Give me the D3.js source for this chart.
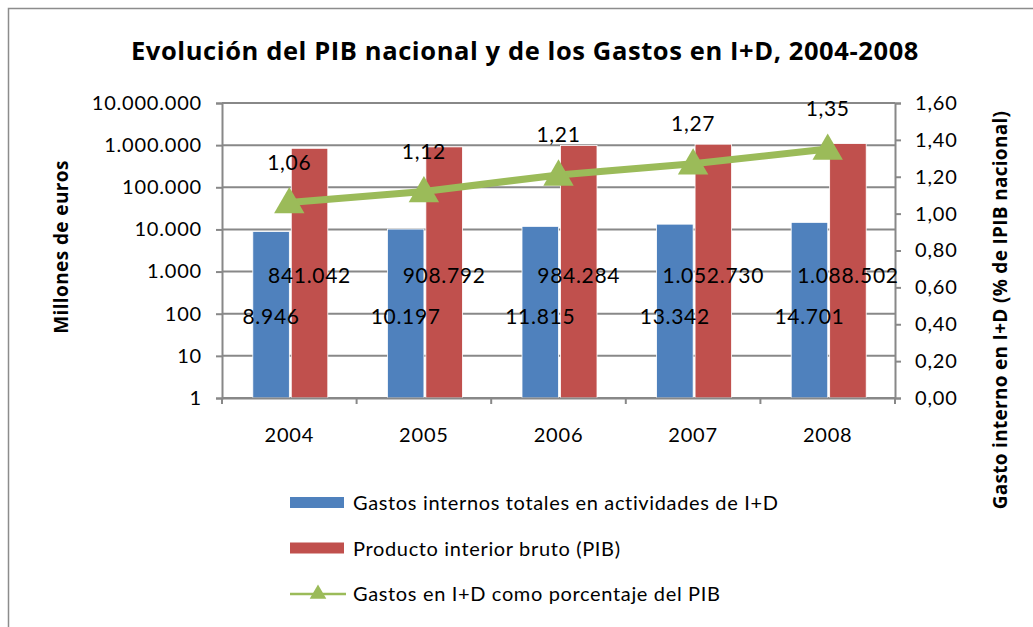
<!DOCTYPE html>
<html>
<head>
<meta charset="utf-8">
<script src="https://cdn.jsdelivr.net/npm/d3@7"></script>
<style>
  body { margin: 0; background: #fff; }
  svg { font-family: Lato, "Open Sans", sans-serif; }
</style>
</head>
<body>
<div id="chart"></div>
<script>
// data
var years = ["2004", "2005", "2006", "2007", "2008"];
var gastoID = [8946, 10197, 11815, 13342, 14701];
var pib = [841042, 908792, 984284, 1052730, 1088502];
var porcentaje = [1.06, 1.12, 1.21, 1.27, 1.35];
var leftTicks = [1, 10, 100, 1000, 10000, 100000, 1000000, 10000000];
var rightTicks = [0, 0.2, 0.4, 0.6, 0.8, 1.0, 1.2, 1.4, 1.6];
var seriesNames = [
  "Gastos internos totales en actividades de I+D",
  "Producto interior bruto (PIB)",
  "Gastos en I+D como porcentaje del PIB"
];

var svgWidth = 1033, svgHeight = 627;
var margin = { top: 103, left: 222, right: 138, bottom: 229 };
var width = svgWidth - margin.left - margin.right;
var height = svgHeight - margin.top - margin.bottom;

var blue = "#4F81BD", red = "#C0504D", green = "#9BBB59", grey = "#888888";

var es = d3.formatLocale({ decimal: ",", thousands: ".", grouping: [3], currency: ["", " €"] });
var fmtInt = es.format(",d");
var fmt2 = es.format(".2f");

var svg = d3.select("#chart").append("svg")
  .attr("width", svgWidth)
  .attr("height", svgHeight);

// chart border
svg.append("rect")
  .attr("x", 8.5).attr("y", 8.5)
  .attr("width", svgWidth + 20).attr("height", svgHeight + 20)
  .attr("fill", "#fff")
  .attr("stroke", "#8c8c8c")
  .attr("stroke-width", 1.5);

var chartGroup = svg.append("g")
  .attr("transform", `translate(${margin.left}, ${margin.top})`);

// scales
var xScale = d3.scaleBand().domain(years).range([0, width]);
var groupWidth = 75;
var xInner = d3.scaleBand().domain(["gasto", "pib"]).range([0, groupWidth]).paddingInner(0.05);
var yLeft = d3.scaleLog().domain([1, 1e7]).range([height, 0]);
var yRight = d3.scaleLinear().domain([0, 1.6]).range([height, 0]);

// gridlines
chartGroup.selectAll(".grid")
  .data(leftTicks)
  .enter()
  .append("line")
  .attr("x1", 0).attr("x2", width)
  .attr("y1", d => yLeft(d)).attr("y2", d => yLeft(d))
  .attr("stroke", grey)
  .attr("stroke-width", 2);

// bars
var barData = [];
years.forEach(function(y, i) {
  barData.push({ year: y, key: "gasto", value: gastoID[i], color: blue });
  barData.push({ year: y, key: "pib", value: pib[i], color: red });
});

var groupOffset = (xScale.bandwidth() - groupWidth) / 2 + 1;

chartGroup.selectAll(".bar")
  .data(barData)
  .enter()
  .append("rect")
  .attr("x", d => xScale(d.year) + groupOffset + xInner(d.key))
  .attr("width", xInner.bandwidth())
  .attr("y", d => yLeft(d.value))
  .attr("height", d => height - yLeft(d.value))
  .attr("fill", d => d.color)
  .attr("stroke", "#fff")
  .attr("stroke-width", 0.8);

// axes
var leftAxis = d3.axisLeft(yLeft).tickValues(leftTicks).tickFormat(fmtInt).tickSize(6).tickPadding(14);
var rightAxis = d3.axisRight(yRight).tickValues(rightTicks).tickFormat(fmt2).tickSize(6).tickPadding(14);
var bottomAxis = d3.axisBottom(xScale).tickSize(0).tickPadding(30);

var gLeft = chartGroup.append("g").call(leftAxis);
var gRight = chartGroup.append("g").attr("transform", `translate(${width}, 0)`).call(rightAxis);
var gBottom = chartGroup.append("g").attr("transform", `translate(0, ${height})`).call(bottomAxis);

[gLeft, gRight, gBottom].forEach(function(g) {
  g.select(".domain").attr("stroke", grey).attr("stroke-width", 2);
  g.selectAll(".tick line").attr("stroke", grey).attr("stroke-width", 2);
  g.selectAll(".tick text")
    .attr("fill", "#000")
    .style("font-size", "20px")
    .style("letter-spacing", "0.8px")
    .style("font-family", "Lato, sans-serif");
});

// category boundary ticks on x axis
chartGroup.selectAll(".xtick")
  .data(years.concat(["end"]))
  .enter()
  .append("line")
  .attr("x1", (d, i) => i * xScale.step())
  .attr("x2", (d, i) => i * xScale.step())
  .attr("y1", height).attr("y2", height + 6)
  .attr("stroke", grey)
  .attr("stroke-width", 2);

// line series on right axis
var line = d3.line()
  .x((d, i) => xScale(years[i]) + xScale.bandwidth() / 2)
  .y(d => yRight(d));

chartGroup.append("path")
  .datum(porcentaje)
  .attr("d", line)
  .attr("fill", "none")
  .attr("stroke", green)
  .attr("stroke-width", 7);

var tri = d3.symbol().type(d3.symbolTriangle).size(400);

chartGroup.selectAll(".marker")
  .data(porcentaje)
  .enter()
  .append("path")
  .attr("d", tri)
  .attr("transform", (d, i) => `translate(${xScale(years[i]) + xScale.bandwidth() / 2}, ${yRight(d) + 2})`)
  .attr("fill", green);

// data labels
chartGroup.selectAll(".pct-label")
  .data(porcentaje)
  .enter()
  .append("text")
  .text(d => fmt2(d))
  .attr("x", (d, i) => xScale(years[i]) + xScale.bandwidth() / 2)
  .attr("y", d => yRight(d) - 33)
  .attr("text-anchor", "middle")
  .style("font-size", "21px")
  .style("letter-spacing", "0.7px");

chartGroup.selectAll(".pib-label")
  .data(pib)
  .enter()
  .append("text")
  .text(d => fmtInt(d))
  .attr("x", (d, i) => xScale(years[i]) + groupOffset + xInner("pib") + xInner.bandwidth() / 2)
  .attr("y", yLeft(1000) + 11)
  .attr("text-anchor", "middle")
  .style("font-size", "21px")
  .style("letter-spacing", "0.7px");

chartGroup.selectAll(".gasto-label")
  .data(gastoID)
  .enter()
  .append("text")
  .text(d => fmtInt(d))
  .attr("x", (d, i) => xScale(years[i]) + groupOffset + xInner("gasto") + xInner.bandwidth() / 2)
  .attr("y", yLeft(100) + 10)
  .attr("text-anchor", "middle")
  .style("font-size", "21px")
  .style("letter-spacing", "0.7px");

// title
svg.append("text")
  .attr("x", 525)
  .attr("y", 60)
  .attr("text-anchor", "middle")
  .style("font-family", "'Open Sans', sans-serif")
  .style("font-size", "25.5px")
  .style("font-weight", "bold")
  .style("letter-spacing", "0.6px")
  .text("Evolución del PIB nacional y de los Gastos en I+D, 2004-2008");

// axis titles
svg.append("text")
  .attr("transform", "translate(68, 247) rotate(-90)")
  .attr("text-anchor", "middle")
  .style("font-family", "'Open Sans', sans-serif")
  .style("font-size", "19px")
  .style("font-weight", "bold")
  .style("letter-spacing", "0.4px")
  .text("Millones de euros");

svg.append("text")
  .attr("transform", "translate(1007, 310) rotate(-90)")
  .attr("text-anchor", "middle")
  .style("font-family", "'Open Sans', sans-serif")
  .style("font-size", "19px")
  .style("font-weight", "bold")
  .style("letter-spacing", "0.3px")
  .text("Gasto interno en I+D (% de IPIB nacional)");

// legend
var legend = svg.append("g").attr("transform", "translate(290, 503)");
var legendRow = legend.selectAll(".row")
  .data(seriesNames)
  .enter()
  .append("g")
  .attr("transform", (d, i) => `translate(0, ${i * 45.5})`);

legendRow.filter((d, i) => i < 2)
  .append("rect")
  .attr("x", 0).attr("y", -6)
  .attr("width", 54).attr("height", 11)
  .attr("fill", (d, i) => i === 0 ? blue : red);

legendRow.filter((d, i) => i === 2)
  .append("line")
  .attr("x1", 0).attr("x2", 56)
  .attr("y1", 0).attr("y2", 0)
  .attr("stroke", green)
  .attr("stroke-width", 2.5);

legendRow.filter((d, i) => i === 2)
  .append("path")
  .attr("d", d3.symbol().type(d3.symbolTriangle).size(120))
  .attr("transform", "translate(28, 0)")
  .attr("fill", green);

legendRow.append("text")
  .attr("x", 63)
  .attr("y", 7)
  .style("font-size", "20px")
  .style("letter-spacing", "0.65px")
  .text(d => d);
</script>
</body>
</html>
